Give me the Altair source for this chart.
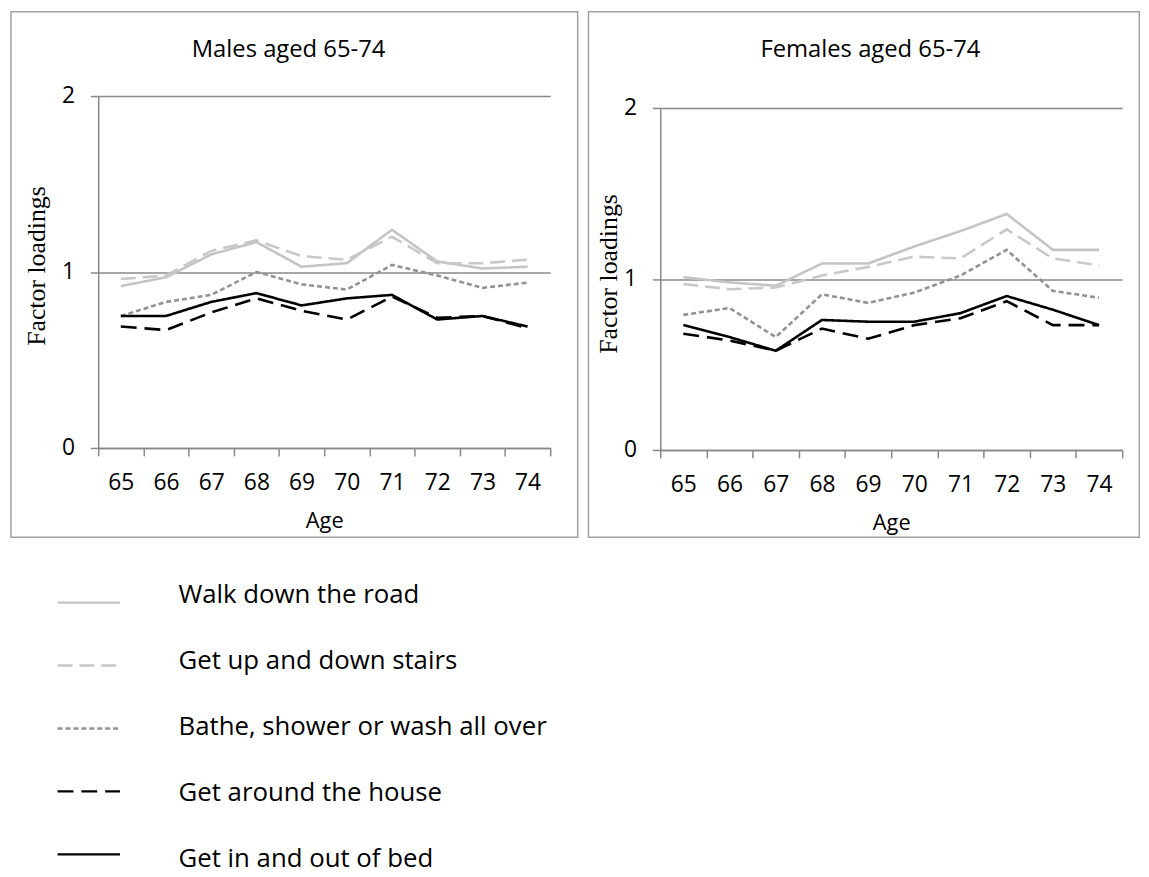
import altair as alt
import pandas as pd

ages = ["65", "66", "67", "68", "69", "70", "71", "72", "73", "74"]
series = ["Walk down the road", "Get up and down stairs", "Bathe, shower or wash all over",
          "Get around the house", "Get in and out of bed"]

male_walk   = [0.92, 0.97, 1.10, 1.17, 1.03, 1.05, 1.24, 1.06, 1.02, 1.03]
male_stairs = [0.96, 0.98, 1.12, 1.18, 1.09, 1.07, 1.20, 1.05, 1.05, 1.07]
male_bathe  = [0.75, 0.83, 0.87, 1.00, 0.93, 0.90, 1.04, 0.98, 0.91, 0.94]
male_house  = [0.69, 0.67, 0.77, 0.85, 0.78, 0.73, 0.86, 0.74, 0.75, 0.68]
male_bed    = [0.75, 0.75, 0.83, 0.88, 0.81, 0.85, 0.87, 0.73, 0.75, 0.69]

female_walk   = [1.01, 0.98, 0.96, 1.09, 1.09, 1.19, 1.28, 1.38, 1.17, 1.17]
female_stairs = [0.97, 0.94, 0.95, 1.02, 1.07, 1.13, 1.12, 1.29, 1.12, 1.08]
female_bathe  = [0.79, 0.83, 0.66, 0.91, 0.86, 0.92, 1.02, 1.17, 0.93, 0.89]
female_house  = [0.68, 0.64, 0.58, 0.71, 0.65, 0.73, 0.77, 0.87, 0.73, 0.73]
female_bed    = [0.73, 0.66, 0.58, 0.76, 0.75, 0.75, 0.80, 0.90, 0.82, 0.73]

panel_titles = ["Males aged 65-74", "Females aged 65-74"]
y_ticks = [0, 1, 2]

colors = ["#c4c4c4", "#c8c8c8", "#929292", "#000000", "#000000"]
dashes = [[1, 0], [15, 7], [5, 3], [16, 8], [1, 0]]

FONT = "Open Sans"
AXC = "#888888"


def long_df(lists):
    rows = []
    for s, vals in zip(series, lists):
        for a, v in zip(ages, vals):
            rows.append({"age": a, "value": v, "series": s})
    return pd.DataFrame(rows)


males = long_df([male_walk, male_stairs, male_bathe, male_house, male_bed])
females = long_df([female_walk, female_stairs, female_bathe, female_house, female_bed])

color_scale = alt.Scale(domain=series, range=colors)
dash_scale = alt.Scale(domain=series, range=dashes)


def panel(df, title, w, h, yrange, rect_x, rect_y, title_x, ytitle_x, ytitle_y):
    lines = alt.Chart(df).mark_line(strokeWidth=2.6).encode(
        x=alt.X("age:N", sort=ages, bandPosition=0.5,
                scale=alt.Scale(type="band", paddingInner=0, paddingOuter=0),
                axis=alt.Axis(title="Age", tickBand="extent", labelAngle=0,
                              labelPadding=16, titleY=63, titleBaseline="top")),
        y=alt.Y("value:Q", scale=alt.Scale(domain=[0, 2], range=yrange, nice=False, zero=False),
                axis=alt.Axis(title="Factor loadings", values=y_ticks, tickCount=3,
                              labelExpr="format(datum.value, '.0f')", grid=True,
                              labelPadding=16, titleX=ytitle_x, titleY=ytitle_y,
                              titleBaseline="middle", titleAngle=270,
                              titleFont="Liberation Serif", titleFontSize=26)),
        color=alt.Color("series:N", scale=color_scale, legend=None),
        strokeDash=alt.StrokeDash("series:N", scale=dash_scale, legend=None),
    )
    one = pd.DataFrame({"title": [title]})
    box = alt.Chart(one).mark_rect(fillOpacity=0, stroke="#a0a0a0", strokeWidth=1.5).encode(
        x=alt.value(rect_x[0]), x2=alt.value(rect_x[1]),
        y=alt.value(rect_y[0]), y2=alt.value(rect_y[1]),
    )
    ttl = alt.Chart(one).mark_text(font=FONT, fontSize=24, baseline="middle",
                                   align="center", color="black").encode(
        x=alt.value(title_x), y=alt.value(-46), text="title:N"
    )
    return alt.layer(box, lines, ttl).properties(width=w, height=h)


left = panel(males, panel_titles[0], 456, 355, [355, 0],
             (-88, 483.7), (-85, 445), 192, -62, 171)
right = panel(females, panel_titles[1], 466, 357, [357, 12],
              (-72.4, 483.3), (-85, 445), 212, -52, 179)

top = alt.hconcat(left, right, spacing=8).resolve_scale(x="independent", y="independent")

leg_df = pd.DataFrame({"series": series, "row": list(range(len(series)))})
leg_lines = alt.Chart(leg_df).mark_rule(strokeWidth=2.4).encode(
    x=alt.value(-41), x2=alt.value(22),
    y=alt.Y("row:Q", scale=alt.Scale(domain=[0, 4], range=[63, 317]), axis=None),
    color=alt.Color("series:N", scale=color_scale, legend=None),
    strokeDash=alt.StrokeDash("series:N", scale=dash_scale, legend=None),
)
leg_text = alt.Chart(leg_df).mark_text(font=FONT, fontSize=26, align="left",
                                       baseline="middle", color="black").encode(
    x=alt.value(81),
    y=alt.Y("row:Q", scale=alt.Scale(domain=[0, 4], range=[55, 322]), axis=None),
    text="series:N",
)
legend = alt.layer(leg_lines, leg_text).resolve_scale(y="independent").properties(
    width=500, height=300)

chart = alt.vconcat(top, legend, spacing=0).resolve_scale(
    x="independent", y="independent"
).properties(
    padding={"left": 1, "top": -2, "right": 0, "bottom": 0}
).configure_view(stroke="transparent").configure_axis(
    domainColor=AXC, tickColor=AXC, gridColor=AXC,
    domainWidth=1.5, tickWidth=1.5, gridWidth=1.5, tickSize=8,
    labelFont=FONT, labelFontSize=23, labelColor="black",
    titleFont=FONT, titleFontSize=22, titleColor="black", titleFontWeight="normal",
)

chart.save("out.html", embed_options={"renderer": "svg", "actions": False})
